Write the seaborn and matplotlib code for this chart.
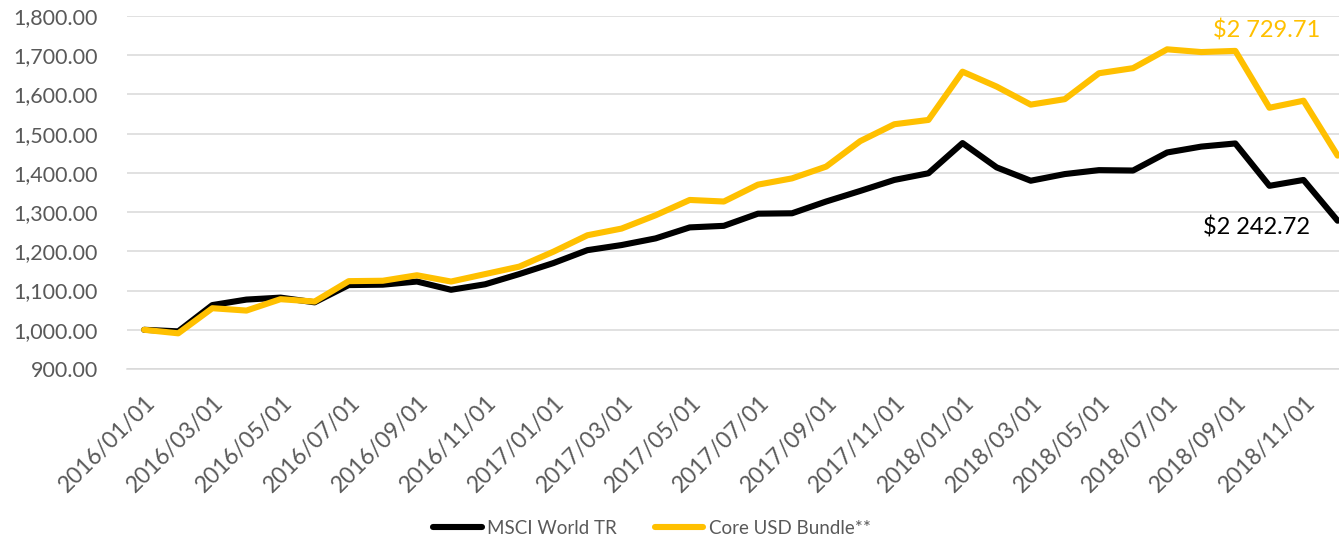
import matplotlib
matplotlib.use("Agg")
import matplotlib.pyplot as plt
from matplotlib.ticker import FuncFormatter, FixedLocator
from matplotlib.transforms import ScaledTranslation
import seaborn as sns
import pandas as pd

# Monthly growth of 1,000 invested, Jan 2016 - Dec 2018
months = pd.date_range("2016-01-01", "2018-12-01", freq="MS").strftime("%Y/%m/%d").tolist()

msci_world_tr = [1000, 996, 1063, 1077, 1082, 1070, 1114, 1115, 1123, 1102, 1116, 1142,
                 1170, 1203, 1216, 1233, 1261, 1265, 1296, 1297, 1327, 1354, 1382, 1399,
                 1476, 1414, 1380, 1397, 1407, 1406, 1452, 1467, 1475, 1367, 1382, 1278]
core_usd_bundle = [1000, 991, 1055, 1049, 1078, 1072, 1124, 1125, 1139, 1123, 1142, 1161,
                   1199, 1241, 1258, 1292, 1331, 1327, 1370, 1386, 1416, 1481, 1524, 1535,
                   1658, 1620, 1574, 1588, 1654, 1667, 1715, 1708, 1711, 1566, 1584, 1444]

series_names = ["MSCI World TR", "Core USD Bundle**"]
series_colors = ["#000000", "#FFC000"]
end_labels = ["$2 242.72", "$2 729.71"]

df = pd.concat([
    pd.DataFrame({"idx": range(len(months)), "month": months, "value": vals, "series": name})
    for name, vals in zip(series_names, [msci_world_tr, core_usd_bundle])
])

sns.set_theme(style="white")
plt.rcParams["font.family"] = ["Lato", "DejaVu Sans"]

fig = plt.figure(figsize=(13.39, 5.38), dpi=100)
ax = fig.add_axes([0.0949, 0.3141, 1.0 - 0.0949, 0.9703 - 0.3141])

sns.lineplot(data=df, x="idx", y="value", hue="series", hue_order=series_names,
             palette=series_colors, linewidth=4.4, ax=ax, legend=False,
             solid_capstyle="round", solid_joinstyle="round")

ax.set_xlim(-0.5, 35.04)
ax.set_ylim(900, 1800)
ax.set_yticks(range(900, 1801, 100))
ax.yaxis.set_major_formatter(FuncFormatter(lambda v, p: f"{v:,.2f}"))
ax.yaxis.grid(True, color="#D9D9D9", linewidth=1.1)
ax.set_axisbelow(True)

for side in ["left", "right", "top"]:
    ax.spines[side].set_visible(False)
ax.spines["bottom"].set_color("#D9D9D9")
ax.spines["bottom"].set_linewidth(1.1)

# labels centred on every other month, tick marks between categories
label_pos = list(range(0, len(months), 2))
ax.xaxis.set_major_locator(FixedLocator(label_pos))
ax.set_xticklabels([months[i] for i in label_pos])
ax.xaxis.set_minor_locator(FixedLocator([p - 0.5 for p in label_pos]))
ax.tick_params(axis="x", which="major", length=0, pad=22, labelsize=16.5, labelcolor="#595959")
ax.tick_params(axis="x", which="minor", length=4, width=1.1, color="#D9D9D9", direction="out")
ax.tick_params(axis="y", length=0, pad=21, labelsize=15.5, labelcolor="#595959")
for lab in ax.get_xticklabels():
    lab.set_rotation(45)
    lab.set_ha("right")
    lab.set_va("center")
    lab.set_rotation_mode("anchor")
    lab.set_transform(lab.get_transform() + ScaledTranslation(0.08, 0, fig.dpi_scale_trans))
ax.set_xlabel("")
ax.set_ylabel("")

# end-of-period values
ax.text(34.19, 1262, end_labels[0], color=series_colors[0], fontsize=17, ha="right", va="center")
ax.text(34.49, 1764, end_labels[1], color=series_colors[1], fontsize=17, ha="right", va="center")

handles = [plt.Line2D([], [], color=c, linewidth=4.4, solid_capstyle="round") for c in series_colors]
fig.legend(handles, series_names, loc="center", bbox_to_anchor=(0.487, 0.018), ncol=2,
           frameon=False, fontsize=13.5, labelcolor="#595959", handlelength=2.6,
           handletextpad=0.3, columnspacing=2.0)

fig.savefig("out.png", dpi=100)
